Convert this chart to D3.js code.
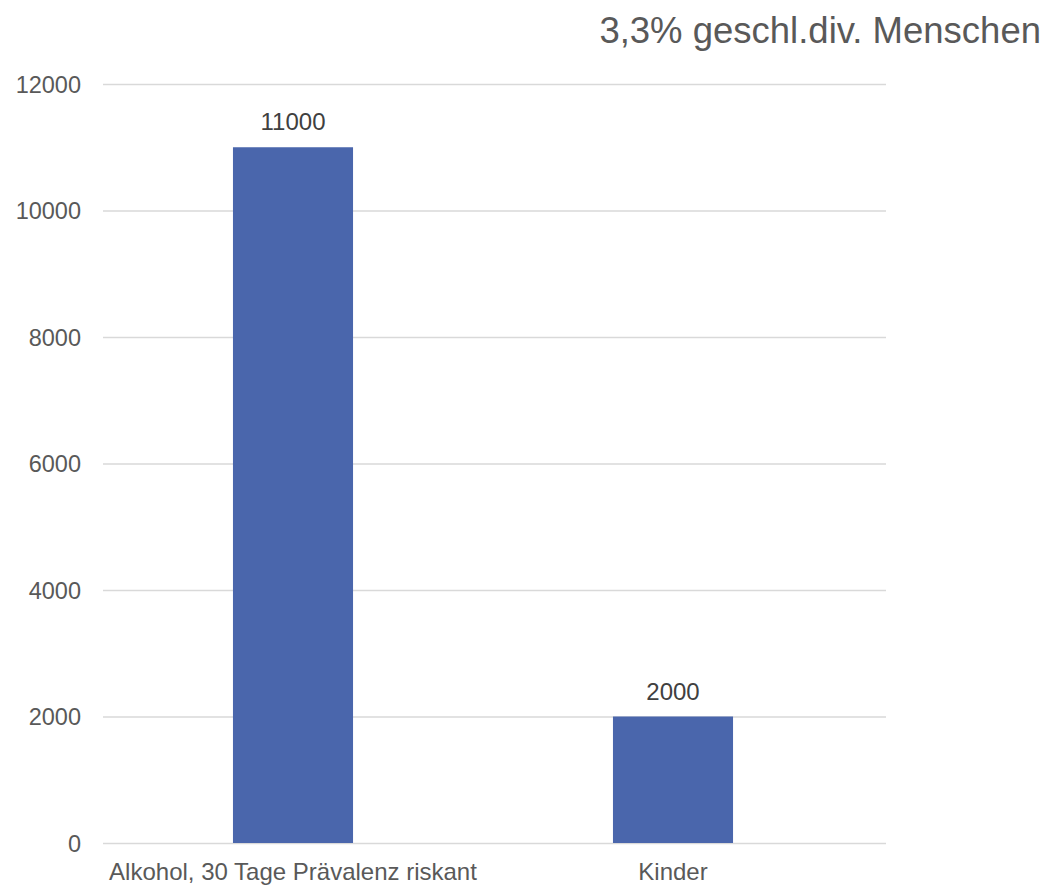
<!DOCTYPE html>
<html><head><meta charset="utf-8">
<script src="https://cdn.jsdelivr.net/npm/d3@7"></script>
<style>body{margin:0;background:#fff}text{font-family:"Liberation Sans",Arial,sans-serif}</style>
</head><body>
<svg id="c" width="1056" height="894"></svg>
<script>
const categories = ["Alkohol, 30 Tage Prävalenz riskant", "Kinder"];
const values = [11000, 2000];
const yTicks = [0, 2000, 4000, 6000, 8000, 10000, 12000];
const title = "3,3% geschl.div. Menschen";

const svg = d3.select("#c");
const y = d3.scaleLinear().domain([0, 12000]).range([843, 84]);
const x = d3.scaleBand().domain(categories).range([103, 863]).padding(0);
const barW = x.bandwidth() * 0.316;
const gridX0 = 103, gridX1 = 886;

svg.append("g").selectAll("line").data(yTicks).join("line")
  .attr("x1", gridX0).attr("x2", gridX1)
  .attr("y1", d => y(d) + 0.5).attr("y2", d => y(d) + 0.5)
  .attr("stroke", "#d9d9d9").attr("stroke-width", 1.3);

const yAxis = d3.axisLeft(y).tickValues(yTicks).tickSize(0).tickPadding(0).tickFormat(d3.format("d"));
const ga = svg.append("g").attr("transform", "translate(81,0)").call(yAxis);
ga.select(".domain").remove();
ga.selectAll("text").attr("font-size", 23.5).attr("fill", "#595959").attr("dy", "0.35em")
  .style("font-family", '"Liberation Sans",Arial,sans-serif');

svg.append("g").selectAll("rect").data(values).join("rect")
  .attr("x", (d, i) => x(categories[i]) + x.bandwidth() / 2 - barW / 2)
  .attr("width", barW)
  .attr("y", d => y(d))
  .attr("height", d => y(0) - y(d))
  .attr("fill", "#4a66ac");

svg.append("g").selectAll("text").data(values).join("text")
  .attr("x", (d, i) => x(categories[i]) + x.bandwidth() / 2)
  .attr("y", d => y(d) - 17)
  .attr("text-anchor", "middle").attr("font-size", 24).attr("fill", "#404040")
  .text(d => d);

const xAxis = d3.axisBottom(x).tickSize(0).tickPadding(0);
const gx = svg.append("g").attr("transform", "translate(0,843)").call(xAxis);
gx.select(".domain").remove();
gx.selectAll("text").attr("font-size", 24).attr("fill", "#595959").attr("dy", 0).attr("y", 37)
  .style("font-family", '"Liberation Sans",Arial,sans-serif');

svg.append("text").attr("x", 1041).attr("y", 43).attr("text-anchor", "end")
  .attr("font-size", 36.5).attr("fill", "#595959").text(title);
</script>
</body></html>
